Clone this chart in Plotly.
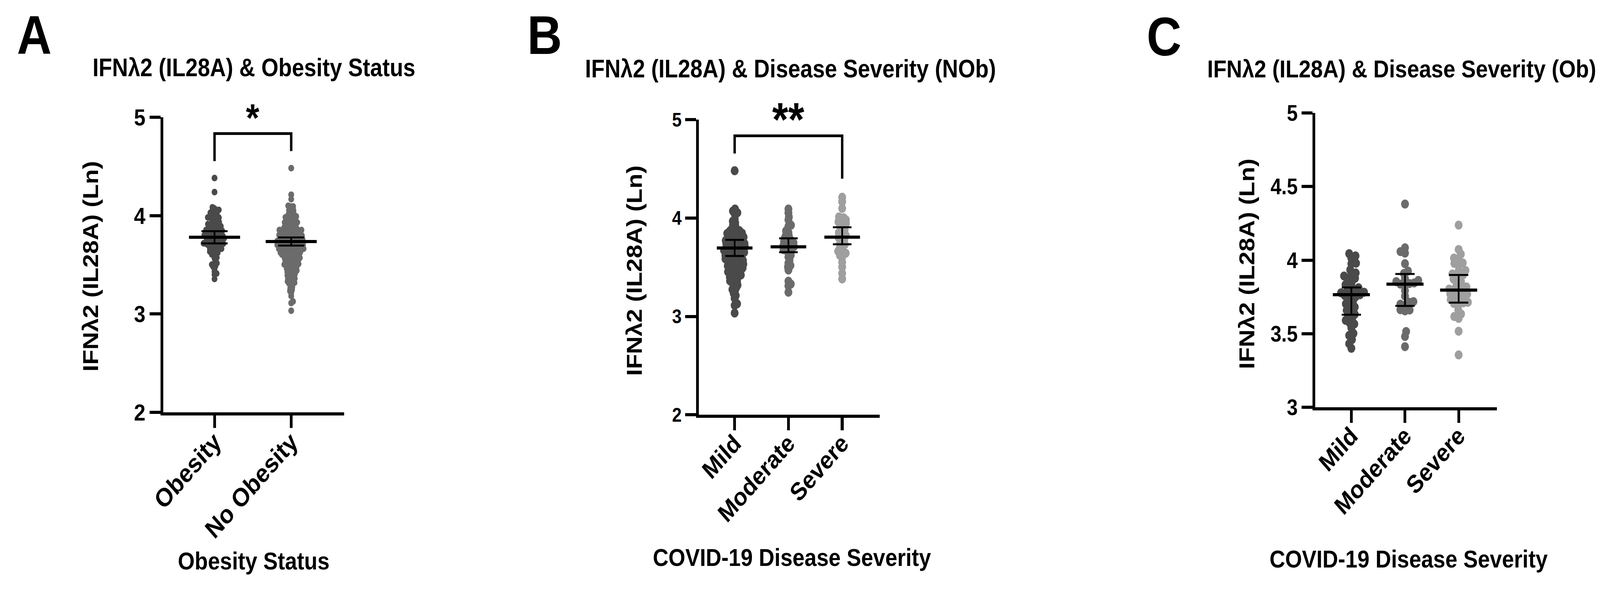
import math
import plotly.graph_objects as go

# categories
ob_status = ["Obesity", "No Obesity"]
severity = ["Mild", "Moderate", "Severe"]

# IFNλ2 (IL28A) (Ln) values
nob_mild = [4.481, 4.092, 4.071, 4.054, 4.046, 3.991, 3.968, 3.952, 3.931, 3.914,
            3.893, 3.884, 3.871, 3.866, 3.858, 3.853, 3.847, 3.844, 3.838, 3.831, 3.824, 3.819, 3.812, 3.806, 3.803, 3.797,
            3.792, 3.788, 3.781, 3.776, 3.772, 3.768, 3.761, 3.757, 3.752, 3.749, 3.746,
            3.741, 3.737, 3.733, 3.728, 3.724, 3.719, 3.716, 3.711, 3.707, 3.703, 3.699, 3.696,
            3.692, 3.687, 3.683, 3.678, 3.672, 3.669, 3.664, 3.661, 3.657, 3.652, 3.648,
            3.643, 3.639, 3.634, 3.628, 3.624, 3.619, 3.613, 3.609, 3.604, 3.601,
            3.596, 3.591, 3.585, 3.581, 3.574, 3.569, 3.566, 3.561, 3.556, 3.551,
            3.544, 3.538, 3.532, 3.527, 3.521, 3.514, 3.509, 3.503, 3.498,
            3.492, 3.486, 3.479, 3.473, 3.468, 3.461, 3.454, 3.449,
            3.442, 3.436, 3.429, 3.421, 3.414, 3.406, 3.401,
            3.393, 3.384, 3.372, 3.361, 3.352,
            3.343, 3.331, 3.318, 3.304,
            3.291, 3.274, 3.262,
            3.234, 3.212, 3.183,
            3.128, 3.112, 3.034]
nob_moderate = [4.092, 4.053, 4.012, 3.981, 3.928, 3.915, 3.869, 3.853, 3.834, 3.821, 3.803, 3.792, 3.781,
                3.763, 3.758, 3.749, 3.741, 3.732, 3.724, 3.718, 3.709, 3.702, 3.697, 3.688, 3.679, 3.671,
                3.662, 3.651, 3.622, 3.604, 3.571, 3.542, 3.518, 3.503, 3.472, 3.358, 3.329, 3.311, 3.246]
nob_severe = [4.212, 4.166, 4.099, 4.012, 4.003, 3.991, 3.982, 3.971, 3.962, 3.951, 3.943, 3.931, 3.922,
              3.902, 3.881, 3.869, 3.852, 3.843, 3.831, 3.822, 3.812, 3.803, 3.791, 3.783, 3.762, 3.741,
              3.732, 3.721, 3.702, 3.683, 3.662, 3.651, 3.643, 3.632, 3.621, 3.602, 3.551, 3.502, 3.438, 3.381]
ob_mild = [4.044, 4.029, 4.013, 3.979, 3.976, 3.934, 3.913, 3.892, 3.900, 3.877, 3.871, 3.852, 3.833, 3.820,
           3.812, 3.803, 3.791, 3.782, 3.778, 3.774, 3.765, 3.758, 3.751, 3.739, 3.722, 3.703, 3.693, 3.681,
           3.659, 3.657, 3.632, 3.621, 3.603, 3.591, 3.573, 3.566, 3.539, 3.502, 3.488, 3.460, 3.432, 3.401]
ob_moderate = [4.381, 4.084, 4.058, 4.048, 3.976, 3.926, 3.909, 3.875, 3.862, 3.854, 3.845, 3.841, 3.837,
               3.831, 3.792, 3.756, 3.718, 3.714, 3.701, 3.693, 3.663, 3.661, 3.655, 3.515, 3.481, 3.412]
ob_severe = [4.238, 4.072, 4.041, 4.014, 4.010, 3.981, 3.978, 3.964, 3.930, 3.928, 3.906, 3.900, 3.888,
             3.872, 3.854, 3.845, 3.820, 3.818, 3.803, 3.803, 3.792, 3.786, 3.769, 3.769, 3.762, 3.751,
             3.741, 3.731, 3.714, 3.710, 3.706, 3.701, 3.662, 3.634, 3.617, 3.604, 3.517, 3.356]

# panel A pools the severity groups
obesity_all = ob_mild + ob_moderate + ob_severe
no_obesity_all = nob_mild + nob_moderate + nob_severe

# centre line with lower / upper error bar ends
a_center, a_low, a_high = [3.780, 3.736], [3.717, 3.696], [3.841, 3.778]
b_center, b_low, b_high = [3.696, 3.708, 3.806], [3.614, 3.653, 3.733], [3.778, 3.794, 3.906]
c_center, c_low, c_high = [3.765, 3.837, 3.796], [3.629, 3.689, 3.711], [3.814, 3.906, 3.899]

# significance brackets: left leg end, top, right leg end
a_bracket = [4.553, 4.833, 4.655]
b_bracket = [4.656, 4.836, 4.400]

W, H = 4652, 1507
FONT = "Liberation Sans, Arial, Helvetica, sans-serif"
DARK, MID, LIGHT = "#4a4a4a", "#6b6b6b", "#9f9f9f"


def px_x(p):
    return p / W


def px_y(p):
    return 1 - p / H


def swarm_offsets(values, ppu_x, ppu_y, spacing):
    # simple beeswarm: push each point sideways until it clears the ones already placed
    order = sorted(range(len(values)), key=lambda i: values[i])
    placed = []
    offsets = [0.0] * len(values)
    for n, i in enumerate(order):
        y = values[i] * ppu_y
        blocked = []
        for (bx, by) in placed:
            dy = abs(y - by)
            if dy < spacing:
                dx = math.sqrt(spacing ** 2 - dy ** 2)
                blocked.append((bx - dx, bx + dx))
        cands = [0.0] + [a for a, b in blocked] + [b for a, b in blocked]
        side = 1 if n % 2 else -1
        cands.sort(key=lambda c: (round(abs(c), 6), c * side))
        pick = 0.0
        for c in cands:
            if all(not (a + 1e-9 < c < b - 1e-9) for a, b in blocked):
                pick = c
                break
        offsets[i] = pick / ppu_x
        placed.append((pick, y))
    return offsets


panels = [
    dict(cats=ob_status, groups=[obesity_all, no_obesity_all], colors=[DARK, MID],
         center=a_center, low=a_low, high=a_high, bracket=a_bracket, bracket_x=[0, 0, 1, 1],
         box=(437, 967, 279, 1070), xr=(-0.667, 1.689), yr=(2, 5),
         yticks=[2, 3, 4, 5], ytext=["2", "3", "4", "5"], ytick_size=60, xtick_size=66,
         msize=17, spacing=0.4, mean_len=106, cap=38),
    dict(cats=severity, groups=[nob_mild, nob_moderate, nob_severe], colors=[DARK, MID, LIGHT],
         center=b_center, low=b_low, high=b_high, bracket=b_bracket, bracket_x=[0, 0, 2, 2],
         box=(2008, 2539, 286, 1076), xr=(-0.666, 2.70), yr=(2, 5),
         yticks=[2, 3, 4, 5], ytext=["2", "3", "4", "5"], ytick_size=50, xtick_size=64,
         msize=23, spacing=0.36, mean_len=74, cap=27),
    dict(cats=severity, groups=[ob_mild, ob_moderate, ob_severe], colors=[DARK, MID, LIGHT],
         center=c_center, low=c_low, high=c_high, bracket=None, bracket_x=None,
         box=(3817, 4349, 268, 1056), xr=(-0.67, 2.71), yr=(3, 5),
         yticks=[3, 3.5, 4, 4.5, 5], ytext=["3", "3.5", "4", "4.5", "5"], ytick_size=57, xtick_size=64,
         msize=23, spacing=0.6, mean_len=77, cap=28),
]

fig = go.Figure()
layout = dict(width=W, height=H, margin=dict(l=0, r=0, t=0, b=0), autosize=False,
              plot_bgcolor="white", paper_bgcolor="white", showlegend=False)

for k, p in enumerate(panels):
    sfx = "" if k == 0 else str(k + 1)
    xa, ya = "x" + sfx, "y" + sfx
    x0, x1, y0, y1 = p["box"]
    ppu_x = (x1 - x0) / (p["xr"][1] - p["xr"][0])
    ppu_y = (y1 - y0) / (p["yr"][1] - p["yr"][0])

    for i, vals in enumerate(p["groups"]):
        offs = swarm_offsets(vals, ppu_x, ppu_y, p["msize"] * p["spacing"])
        fig.add_trace(go.Scatter(x=[i + o for o in offs], y=vals, mode="markers", xaxis=xa, yaxis=ya,
                                 marker=dict(size=p["msize"], color=p["colors"][i], line_width=0),
                                 hoverinfo="y", cliponaxis=False))

    n = len(p["cats"])
    fig.add_trace(go.Scatter(
        x=list(range(n)), y=p["center"], mode="markers", xaxis=xa, yaxis=ya, cliponaxis=False,
        marker=dict(symbol="line-ew", size=p["mean_len"], line=dict(color="black", width=8)),
        error_y=dict(type="data", symmetric=False,
                     array=[h - c for h, c in zip(p["high"], p["center"])],
                     arrayminus=[c - l for c, l in zip(p["center"], p["low"])],
                     color="black", thickness=5, width=p["cap"])))

    if p["bracket"]:
        br = p["bracket"]
        fig.add_trace(go.Scatter(x=p["bracket_x"], y=[br[0], br[1], br[1], br[2]], mode="lines",
                                 xaxis=xa, yaxis=ya, cliponaxis=False, hoverinfo="skip",
                                 line=dict(color="black", width=7)))

    layout["xaxis" + sfx] = dict(
        domain=[px_x(x0), px_x(x1)], range=list(p["xr"]), anchor=ya,
        tickvals=list(range(n)), ticktext=p["cats"], tickangle=-45, ticklabelstandoff=-30,
        showline=True, linecolor="black", linewidth=8, ticks="outside", ticklen=32,
        tickwidth=8, tickcolor="black", showgrid=False, zeroline=False,
        tickfont=dict(family=FONT, size=p["xtick_size"], color="black", weight="bold"))
    layout["yaxis" + sfx] = dict(
        domain=[px_y(y1), px_y(y0)], range=list(p["yr"]), anchor=xa,
        tickvals=p["yticks"], ticktext=p["ytext"],
        showline=True, linecolor="black", linewidth=8, ticks="outside", ticklen=32,
        tickwidth=8, tickcolor="black", showgrid=False, zeroline=False,
        tickfont=dict(family=FONT, size=p["ytick_size"], color="black", weight="bold"))


def label(text, x, y, size, angle=0):
    return dict(text=text, x=px_x(x), y=px_y(y), xref="paper", yref="paper", showarrow=False,
                xanchor="center", yanchor="middle", textangle=angle,
                font=dict(family=FONT, size=size, color="black", weight="bold"))


ytitle = "IFNλ2 (IL28A) (Ln)"
layout["annotations"] = [
    label("A", 58, 59, 140), label("B", 1556, 59, 140), label("C", 3373, 63, 140),
    label("IFNλ2 (IL28A) & Obesity Status", 703, 146, 64),
    label("IFNλ2 (IL28A) & Disease Severity (NOb)", 2277, 150, 64),
    label("IFNλ2 (IL28A) & Disease Severity (Ob)", 4070, 150, 63),
    label(ytitle, 223, 678, 63, -90), label(ytitle, 1819, 690, 63, -90), label(ytitle, 3616, 672, 63, -90),
    label("Obesity Status", 702, 1467, 63),
    label("COVID-19 Disease Severity", 2281, 1458, 63),
    label("COVID-19 Disease Severity", 4090, 1462, 63),
    label("*", 699, 280, 100), label("**", 2271, 285, 120),
]

fig.update_layout(**layout)

# the figure is laid out at the reference pixel size; the browser window can come out
# narrower (it is capped at 4096 px), so stretch the figure onto the window it is shown in
fit_js = """
var gd = document.getElementById('{plot_id}');
document.documentElement.style.margin = '0';
document.documentElement.style.overflow = 'hidden';
document.body.style.margin = '0';
document.body.style.overflow = 'hidden';
var sx = window.innerWidth / %d, sy = window.innerHeight / %d;
gd.style.transformOrigin = '0 0';
gd.style.transform = 'scale(' + sx + ',' + sy + ')';
gd.parentElement.style.width = window.innerWidth + 'px';
gd.parentElement.style.height = window.innerHeight + 'px';
gd.parentElement.style.overflow = 'hidden';
""" % (W, H)

fig.write_html("out.html", post_script=fit_js, config={"displayModeBar": False})
